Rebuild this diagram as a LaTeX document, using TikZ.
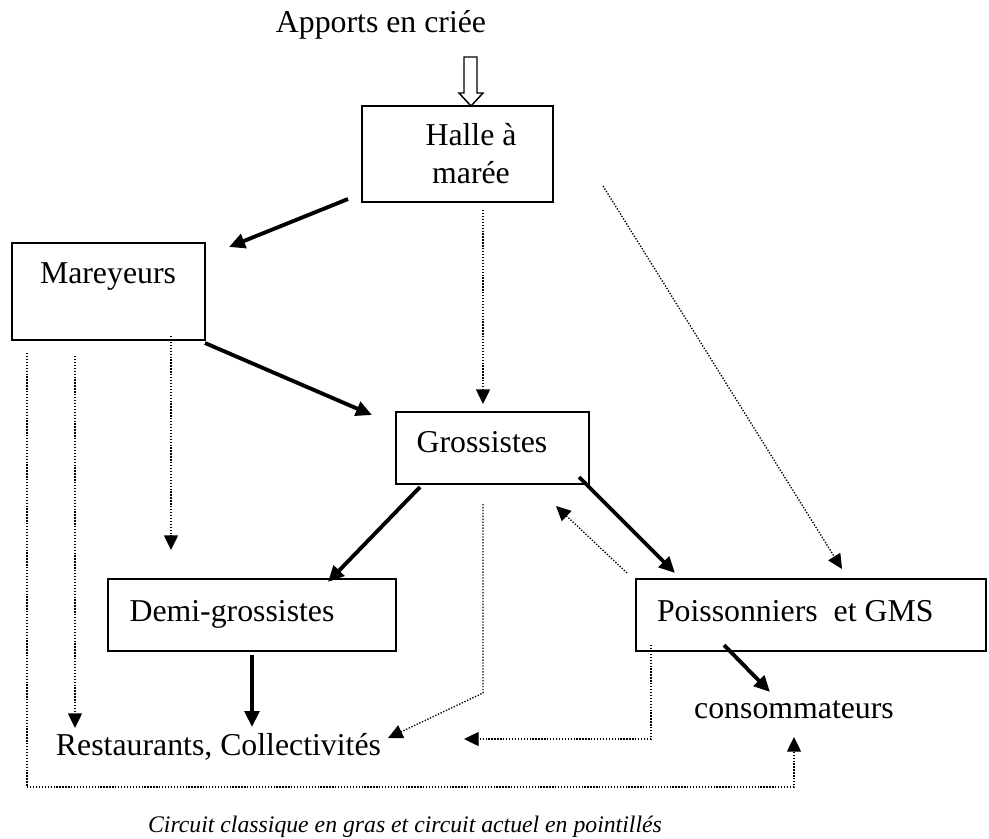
\documentclass[tikz,border=0pt]{standalone}
\usepackage{fontspec}
\setmainfont{Liberation Serif}
\usetikzlibrary{arrows.meta,calc}
\begin{document}
\begin{tikzpicture}[x=0.75pt,y=-0.75pt,
  box/.style={draw,line width=1.5pt,rectangle,inner sep=0pt,outer sep=0pt},
  lbl/.style={inner sep=0pt,outer sep=0pt,anchor=base,font=\fontsize{23.85}{28.6}\selectfont},
  bold/.style={line width=2.9pt,-{Triangle[length=12pt,width=11pt]}},
  dots/.style={line width=1pt,dash pattern=on 1pt off 1.2pt,-{Triangle[length=11pt,width=10.5pt]}}]
\path[use as bounding box] (0,0) rectangle (989,839);
% boxes
\node[box,minimum width=191*0.75pt,minimum height=96*0.75pt] (halle) at (457.5,154) {};
\node[box,minimum width=193*0.75pt,minimum height=97*0.75pt] (mar) at (108.5,291.5) {};
\node[box,minimum width=193*0.75pt,minimum height=72*0.75pt] (gros) at (492.5,448) {};
\node[box,minimum width=288*0.75pt,minimum height=72*0.75pt] (demi) at (252,615) {};
\node[box,minimum width=350*0.75pt,minimum height=72*0.75pt] (poisson) at (811,615) {};
% texts
\node[lbl] (apports) at (381,32) {Apports en criée};
\node[lbl] (halle1) at (471,145) {Halle à};
\node[lbl] (halle2) at (471,183) {marée};
\node[lbl] (martxt) at (108,283) {Mareyeurs};
\node[lbl] (grostxt) at (482,452) {Grossistes};
\node[lbl] (demitxt) at (232,621) {Demi-grossistes};
\node[lbl,anchor=base west] (poisstxt) at (657,621) {Poissonniers\ \ et GMS};
\node[lbl] (conso) at (794,718) {consommateurs};
\node[lbl] (resto) at (218.5,755) {Restaurants, Collectivités};
\node[lbl,font=\fontsize{17.8}{21}\selectfont\itshape] (caption) at (405,832) {Circuit classique en gras et circuit actuel en pointillés};
% hollow input arrow
\draw[line width=1.1pt,line join=miter] (464,57) -- (477,57) -- (477,93) -- (483,93) -- (halle.north -| 471,0) -- (459,93) -- (464,93) -- cycle;
% bold (classic circuit)
\draw[bold] ($(halle.south west)+(-14,-3)$) -- ($(mar.north east)+(24,4)$);
\draw[bold] ($(mar.south east)+(0,3)$) -- ($(gros.north west)+(-24,3)$);
\draw[bold] ($(gros.south west)+(24,3)$) -- ($(demi.north east)+(-68,3)$);
\draw[bold] ($(gros.south east)+(-10,-7)$) -- ($(poisson.north west)+(39,-6)$);
\draw[bold] ($(demi.south)+(0,4)$) -- ($(demi.south)+(0,76)$);
\draw[bold] ($(poisson.south west)+(88,-6)$) -- ($(poisson.south west)+(134,41)$);
% dotted (current circuit)
\draw[dots] ($(halle.south)+(25.5,8)$) -- ($(gros.north)+(-9.5,-8)$);
\draw[dots] ($(halle.south east)+(50,-16)$) -- ($(poisson.north west)+(206,-10)$);
\draw[dots] ($(poisson.north west)+(-9,-6)$) -- ($(gros.south east)+(-33,22)$);
\draw[dots] ($(gros.south)+(-9.5,20)$) -- ($(gros.south)+(-9.5,209)$) -- ($(resto.base)+(169.5,-17)$);
\draw[dots] ($(poisson.south west)+(15,-6)$) -- ($(poisson.south west)+(15,88)$) -- ($(poisson.south west)+(-172,88)$);
\draw[dots] ($(mar.south east)+(-34,-4)$) -- ($(demi.north west)+(63,-29)$);
\draw[dots] ($(mar.south west)+(63,16)$) -- ($(mar.south west)+(63,388)$);
\draw[dots] ($(mar.south west)+(15,13)$) -- ($(mar.south west)+(15,447)$) -- ($(conso.base)+(0,69)$) -- ($(conso.base)+(0,19)$);
\end{tikzpicture}
\end{document}
